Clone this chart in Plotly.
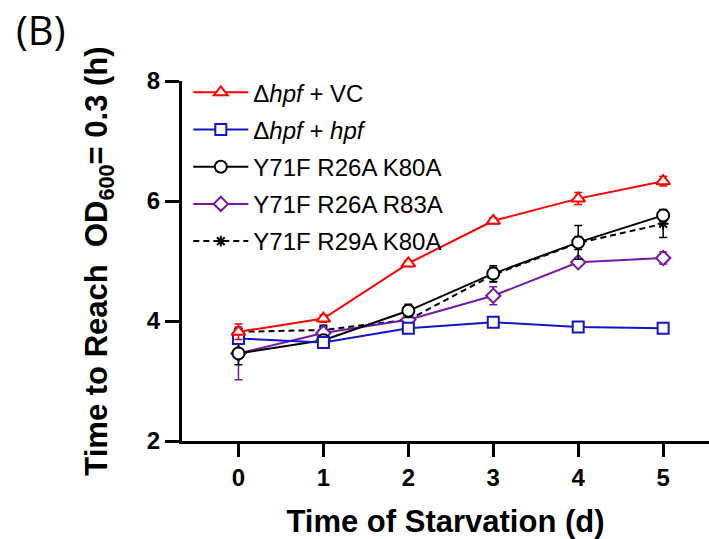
import plotly.graph_objects as go

days = [0, 1, 2, 3, 4, 5]

vc = [3.82, 4.04, 4.96, 5.67, 6.04, 6.33]
vc_err = [0.13, 0.06, 0.05, 0.05, 0.10, 0.08]

hpf = [3.71, 3.64, 3.88, 3.98, 3.90, 3.88]
hpf_err = [0.08, 0.08, 0.05, 0.05, 0.05, 0.05]

k80 = [3.46, 3.68, 4.17, 4.79, 5.31, 5.76]
k80_err = [0.19, 0.05, 0.11, 0.13, 0.28, 0.10]

r83 = [3.46, 3.80, 4.02, 4.42, 4.98, 5.05]
r83_err = [0.44, 0.08, 0.05, 0.15, 0.05, 0.10]

r29 = [3.82, 3.85, 4.02, 4.77, 5.30, 5.62]
r29_err = [0.05, 0.08, 0.05, 0.12, 0.11, 0.23]

names = ["Δ<i>hpf</i> + VC", "Δ<i>hpf</i> + <i>hpf</i>", "Y71F R26A K80A",
         "Y71F R26A R83A", "Y71F R29A K80A"]
y_tick_vals = [2, 4, 6, 8]

FONT = "Arial, Liberation Sans, sans-serif"

series = [
    # drawn first -> bottom
    dict(y=r29, e=r29_err, name=names[4], color="#000000", symbol="asterisk-open",
         dash="6px,4px", rank=5, fill="#000000", size=9),
    dict(y=r83, e=r83_err, name=names[3], color="#7418A8", symbol="diamond",
         dash="solid", rank=4, fill="white", size=11),
    dict(y=k80, e=k80_err, name=names[2], color="#000000", symbol="circle",
         dash="solid", rank=3, fill="white", size=12),
    dict(y=hpf, e=hpf_err, name=names[1], color="#1414C8", symbol="square",
         dash="solid", rank=2, fill="white", size=11),
    dict(y=vc, e=vc_err, name=names[0], color="#FF0000", symbol="triangle-up",
         dash="solid", rank=1, fill="white", size=12),
]

fig = go.Figure()
for s in series:
    fig.add_trace(go.Scatter(
        x=days, y=s["y"], name=s["name"], mode="lines+markers",
        legendrank=s["rank"], legendgroup=s["name"],
        line=dict(color=s["color"], width=2, dash=s["dash"]),
        marker=dict(symbol=s["symbol"], size=s["size"], color=s["fill"],
                    line=dict(color=s["color"], width=2)),
        error_y=dict(type="data", array=s["e"], visible=True,
                     color=s["color"], thickness=1.5, width=4),
    ))

fig.update_layout(
    width=709, height=539,
    margin=dict(l=182, r=0, t=81, b=98),
    paper_bgcolor="white", plot_bgcolor="white",
    font=dict(family=FONT, color="black"),
    showlegend=True,
    legend=dict(x=0.012, y=1.03, xanchor="left", yanchor="top",
                font=dict(size=24, family=FONT), bgcolor="rgba(0,0,0,0)",
                tracegroupgap=3, itemwidth=55),
    annotations=[
        dict(text="(B)", x=(14 - 182) / 527, y=1 + (81 - 0) / 360,
             xref="paper", yref="paper", showarrow=False,
             xanchor="left", yanchor="top",
             font=dict(size=40, family="Open Sans, sans-serif", color="black")),
    ],
)

fig.update_xaxes(
    range=[-0.665, 5.54], tickvals=days, ticktext=[str(d) for d in days],
    showline=True, linewidth=3, linecolor="black", mirror=False,
    ticks="outside", ticklen=13, tickwidth=3, tickcolor="black",
    showgrid=False, zeroline=False, automargin=False,
    tickfont=dict(size=24, family=FONT, weight="bold"),
    title=dict(text="<b>Time of Starvation (d)</b>", font=dict(size=31, family=FONT), standoff=22),
)
fig.update_yaxes(
    range=[2, 8], tickvals=y_tick_vals,
    showline=True, linewidth=3, linecolor="black",
    ticks="outside", ticklen=14, tickwidth=3, tickcolor="black",
    showgrid=False, zeroline=False, automargin=False,
    tickfont=dict(size=24, family=FONT, weight="bold"),
    title=dict(text="<b>Time to Reach  OD<sub>600</sub>= 0.3 (h)</b>",
               font=dict(size=31, family=FONT), standoff=30),
)

fig.write_html("out.html")
